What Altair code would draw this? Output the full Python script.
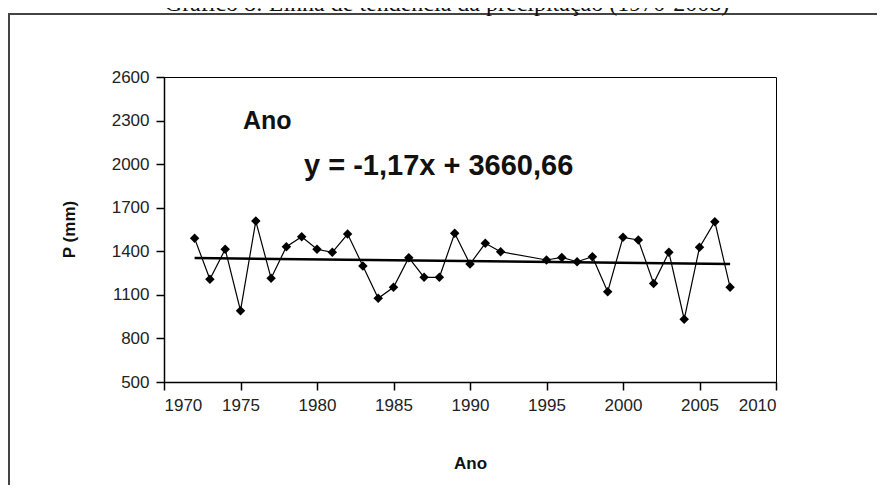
import altair as alt
import pandas as pd

# ---- data ----
years = [1972, 1973, 1974, 1975, 1976, 1977, 1978, 1979, 1980, 1981, 1982,
         1983, 1984, 1985, 1986, 1987, 1988, 1989, 1990, 1991, 1992,
         1995, 1996, 1997, 1998, 1999, 2000, 2001, 2002, 2003, 2004, 2005,
         2006, 2007]
precip = [1489, 1207, 1414, 991, 1608, 1214, 1432, 1500, 1414, 1393, 1519,
          1299, 1076, 1152, 1356, 1221, 1221, 1524, 1312, 1455, 1397,
          1340, 1358, 1328, 1363, 1122, 1496, 1478, 1179, 1393, 932, 1427,
          1604, 1152]
x_ticks = [1970, 1975, 1980, 1985, 1990, 1995, 2000, 2005, 2010]
y_ticks = [500, 800, 1100, 1400, 1700, 2000, 2300, 2600]
trend_years = [1972, 2007]
trend_slope = -1.17
trend_intercept = 3660.66
title_text = "Gráfico 8: Linha de tendência da precipitação (1970-2008)"
series_label = "Ano"
equation_text = "y = -1,17x + 3660,66"
x_title = "Ano"
y_title = "P (mm)"

W, H = 612, 305
PAD = {"left": 156, "top": 69, "right": 101, "bottom": 103}
FONT = "Liberation Sans"

df = pd.DataFrame({"ano": years, "p": precip})
tdf = pd.DataFrame({"ano": trend_years})

x_enc = alt.X(
    "ano:Q",
    scale=alt.Scale(domain=[1970, 2010], nice=False, zero=False),
    axis=alt.Axis(values=x_ticks, format="d", title=x_title, titleY=81,
                  titleBaseline="middle", labelPadding=7),
)
y_enc = alt.Y(
    "p:Q",
    scale=alt.Scale(domain=[500, 2600], nice=False, zero=False),
    axis=alt.Axis(values=y_ticks, format="d", title=y_title, titleX=-95,
                  titleY=152, titleAngle=270, titleAlign="center",
                  titleBaseline="middle", labelPadding=7),
)

line = alt.Chart(df).mark_line(color="black", strokeWidth=1.2).encode(x=x_enc, y=y_enc)
pts = alt.Chart(df).mark_point(shape="diamond", filled=True, color="black",
                               size=90, opacity=1).encode(x="ano:Q", y="p:Q")
trend = (
    alt.Chart(tdf)
    .transform_calculate(p=f"{trend_slope}*datum.ano + {trend_intercept}")
    .mark_line(color="black", strokeWidth=2.5)
    .encode(x="ano:Q", y="p:Q")
)

one = pd.DataFrame({"a": [0]})
lbl = alt.Chart(pd.DataFrame({"t": [series_label]})).mark_text(
    font=FONT, fontSize=25, fontWeight="bold", align="left", baseline="middle",
    color="#111").encode(x=alt.value(79), y=alt.value(44), text="t:N")
eq = alt.Chart(pd.DataFrame({"t": [equation_text]})).mark_text(
    font=FONT, fontSize=29, fontWeight="bold", align="left", baseline="middle",
    color="#111").encode(x=alt.value(140), y=alt.value(89), text="t:N")
ttl = alt.Chart(pd.DataFrame({"t": [title_text]})).mark_text(
    font="Liberation Serif", fontSize=24, align="center", baseline="alphabetic",
    color="#111").encode(x=alt.value(283), y=alt.value(-66), text="t:N")
frame_top = alt.Chart(one).mark_rule(color="#444", strokeWidth=2).encode(
    x=alt.value(-156), x2=alt.value(W + PAD["right"]), y=alt.value(-63))
frame_left = alt.Chart(one).mark_rule(color="#444", strokeWidth=2).encode(
    x=alt.value(-155), y=alt.value(-63), y2=alt.value(H + PAD["bottom"]))

chart = (
    alt.layer(frame_top, frame_left, ttl, trend, line, pts, lbl, eq)
    .properties(width=W, height=H, autosize=alt.AutoSizeParams(type="none"),
                padding=PAD, background="white")
    .configure_view(stroke="black", strokeWidth=1)
    .configure_axis(
        grid=False, domainColor="black", domainWidth=1.5, tickColor="black",
        tickWidth=1.5, tickSize=8, labelFont=FONT, labelFontSize=17,
        labelColor="#222", titleFont=FONT, titleFontSize=17,
        titleFontWeight="bold", titleColor="#111",
    )
)

chart.save("out.html", embed_options={"renderer": "svg", "actions": False})
